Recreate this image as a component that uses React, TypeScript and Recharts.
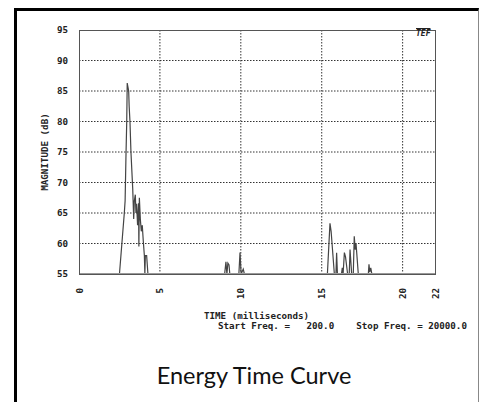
import { LineChart, Line, XAxis, YAxis, CartesianGrid } from "recharts";

// time in milliseconds
const times = [
  0, 2.5, 2.8, 2.85, 2.9, 2.95, 2.98, 3.07, 3.1, 3.15, 3.21, 3.32, 3.38, 3.42,
  3.48, 3.52, 3.56, 3.62, 3.68, 3.7, 3.73, 3.79, 3.85, 3.91, 3.97, 4.04, 4.07,
  4.1, 4.18, 4.26, 9.0, 9.08, 9.14, 9.2, 9.27, 9.32, 9.88, 9.95, 10.02, 10.15,
  10.22, 15.35, 15.51, 15.58, 15.78, 15.88, 15.92, 15.97, 16.22, 16.27, 16.32,
  16.4, 16.47, 16.6, 16.7, 16.75, 16.85, 16.95, 17.01, 17.07, 17.12, 17.26,
  17.88, 17.92, 17.97, 18.03, 18.1, 22,
];
// magnitude in dB
const mags = [
  55, 55, 65, 67, 74, 80, 86.3, 85, 82.5, 80, 75, 69, 64, 67, 68, 65, 66.5, 63,
  66.6, 59.5, 67.5, 64, 62, 63, 60.5, 58, 55, 58, 58, 55, 55, 57, 55, 56.8,
  56.5, 55, 55, 58.5, 55, 55.8, 55, 55, 63.3, 62, 55, 55, 58.5, 55, 55, 56, 55,
  58.5, 57.8, 55, 55, 59, 55, 55, 61.2, 59, 60, 55, 55, 56.6, 55.3, 56, 55, 55,
];

const xTicks = [0, 5, 10, 15, 20, 22];
const yTicks = [55, 60, 65, 70, 75, 80, 85, 90, 95];

const data = times.map((t, i) => ({ t, mag: mags[i] }));

const mono = "'DejaVu Sans Mono', monospace";

const XTick = (props: any) => {
  const { x, y, payload } = props;
  return (
    <text
      x={x}
      y={y + 6}
      transform={`rotate(-90 ${x} ${y + 6})`}
      textAnchor="end"
      dominantBaseline="central"
      fontFamily={mono}
      fontWeight="bold"
      fontSize={9.2}
      fill="#222"
    >
      {payload.value}
    </text>
  );
};

const txt = (extra: any) => ({
  position: "absolute" as const,
  fontFamily: mono,
  fontWeight: "bold" as const,
  fontSize: 9.2,
  color: "#222",
  whiteSpace: "pre" as const,
  lineHeight: "10px",
  ...extra,
});

export default function App() {
  return (
    <div
      style={{
        position: "absolute",
        left: 0,
        top: 0,
        width: 479,
        height: 402,
        overflow: "hidden",
        background: "#fff",
      }}
    >
      <div
        style={{
          position: "absolute",
          left: 14,
          top: 8,
          width: 461,
          height: 420,
          borderLeft: "3px solid #000",
          borderTop: "3px solid #000",
          borderRight: "1px solid #888",
        }}
      />
      <LineChart
        width={479}
        height={402}
        data={data}
        margin={{ top: 30, right: 44, bottom: 108, left: 49 }}
        style={{ position: "absolute", left: 0, top: 0 }}
      >
        <CartesianGrid
          stroke="#333"
          strokeDasharray="1.5 1.5"
          verticalValues={[5, 10, 15, 20]}
          horizontalValues={[60, 65, 70, 75, 80, 85, 90]}
        />
        <XAxis
          type="number"
          dataKey="t"
          domain={[0, 22]}
          ticks={xTicks}
          tick={<XTick />}
          tickLine={false}
          axisLine={{ stroke: "#999", strokeWidth: 2 }}
          height={20}
          interval={0}
        />
        <YAxis
          domain={[55, 95]}
          ticks={yTicks}
          allowDataOverflow
          tickLine={false}
          axisLine={false}
          width={30}
          tick={{
            fontFamily: mono,
            fontWeight: "bold",
            fontSize: 9.2,
            fill: "#222",
            dx: -3,
          }}
          interval={0}
        />
        <Line
          type="linear"
          dataKey="mag"
          stroke="#444"
          strokeWidth={1.2}
          dot={false}
          isAnimationActive={false}
        />
      </LineChart>
      <div
        style={{
          position: "absolute",
          left: 79,
          top: 30,
          width: 355,
          height: 243,
          border: "1px solid #555",
          pointerEvents: "none",
        }}
      />
      <div
        style={txt({
          left: 45,
          top: 152,
          transform: "translate(-50%, -50%) rotate(-90deg)",
        })}
      >
        MAGNITUDE (dB)
      </div>
      <div style={txt({ left: 204, top: 311 })}>TIME (milliseconds)</div>
      <div style={txt({ left: 218, top: 321 })}>
        {"Start Freq. =   200.0    Stop Freq. = 20000.0"}
      </div>
      <div
        style={txt({
          left: 416,
          top: 29,
          fontStyle: "italic",
          fontSize: 8,
          textDecoration: "overline",
        })}
      >
        TEF
      </div>
      <div
        style={{
          position: "absolute",
          left: 0,
          width: 508,
          top: 360,
          textAlign: "center",
          fontFamily: "Lato, 'Open Sans', sans-serif",
          fontSize: 23.5,
          color: "#111",
          lineHeight: "30px",
        }}
      >
        Energy Time Curve
      </div>
    </div>
  );
}
